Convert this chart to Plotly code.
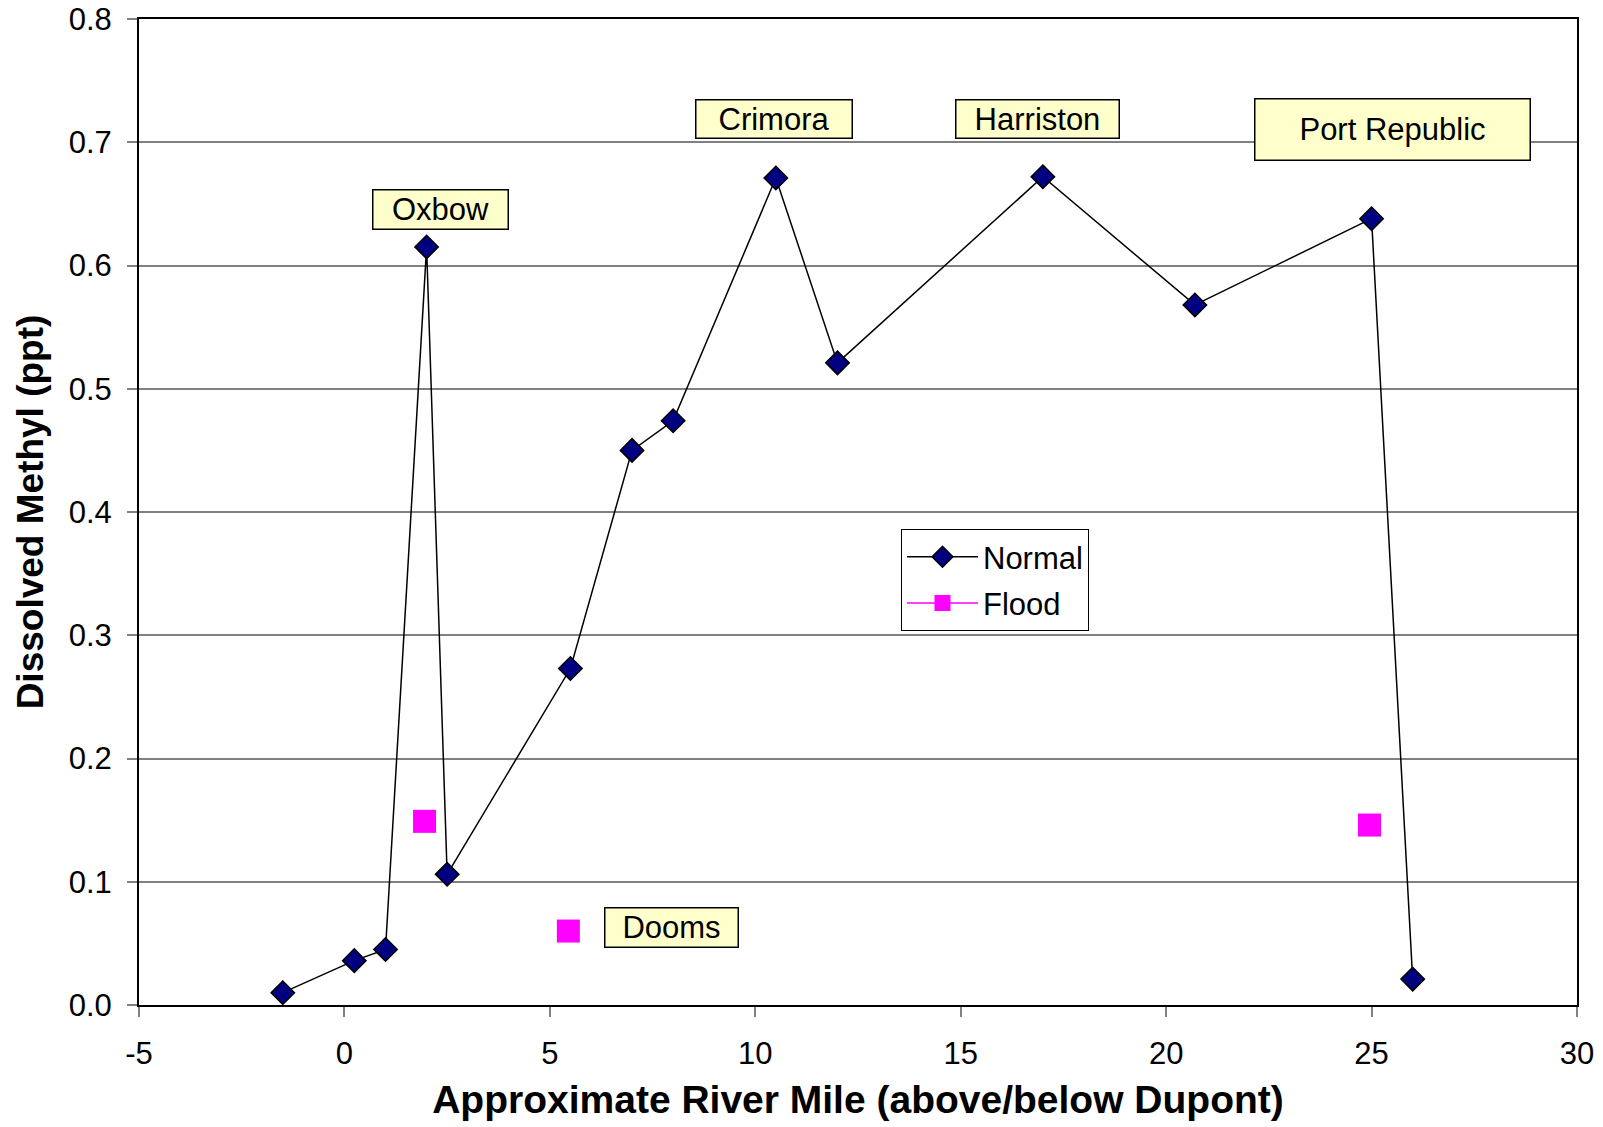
import plotly.graph_objects as go

# Data
normal_x = [-1.5, 0.24, 1.0, 2.0, 2.5, 5.5, 7.0, 8.0, 10.5, 12.0, 17.0, 20.7, 25.0, 26.0]
normal_y = [0.010, 0.036, 0.045, 0.615, 0.106, 0.273, 0.450, 0.474, 0.671, 0.521, 0.672, 0.568, 0.638, 0.021]

flood_x = [1.95, 5.45, 24.95]
flood_y = [0.149, 0.060, 0.146]

x_tickvals = [-5, 0, 5, 10, 15, 20, 25, 30]
x_ticktext = ["-5", "0", "5", "10", "15", "20", "25", "30"]
y_tickvals = [0.0, 0.1, 0.2, 0.3, 0.4, 0.5, 0.6, 0.7, 0.8]
y_ticktext = ["0.0", "0.1", "0.2", "0.3", "0.4", "0.5", "0.6", "0.7", "0.8"]

labels = ["Oxbow", "Crimora", "Harriston", "Port Republic", "Dooms"]
label_x = [2.345, 10.45, 16.87, 25.52, 7.97]
label_y = [0.6458, 0.7186, 0.7186, 0.710, 0.0631]
label_w = [137, 158, 165, 277, 135]
label_h = [41, 40, 40, 63, 41]

FONT = "Liberation Sans, Arial, sans-serif"

fig = go.Figure()

fig.add_trace(go.Scatter(
    x=normal_x, y=normal_y, mode="lines+markers", name="Normal",
    legendgroup="a",
    line=dict(color="black", width=1.5),
    marker=dict(symbol="diamond", size=18, color="#000080",
                line=dict(color="black", width=1.5)),
))

# Flood points are not connected; gaps keep a line in the legend only
fx, fy = [], []
for xv, yv in zip(flood_x, flood_y):
    fx += [xv, None]
    fy += [yv, None]
fig.add_trace(go.Scatter(
    x=fx, y=fy, mode="lines+markers", name="Flood", connectgaps=False,
    legendgroup="b",
    line=dict(color="#FF00FF", width=1.5),
    marker=dict(symbol="square", size=23, color="#FF00FF", line=dict(width=0)),
))

for t, xv, yv, w, h in zip(labels, label_x, label_y, label_w, label_h):
    fig.add_annotation(
        x=xv, y=yv, xref="x", yref="y", text=t, showarrow=False,
        font=dict(family=FONT, size=31, color="black"),
        bgcolor="#FFFFCC", bordercolor="black", borderwidth=1.5, borderpad=0,
        width=w - 3, height=h - 3, xanchor="center", yanchor="middle",
    )

fig.update_layout(
    width=1603, height=1127,
    margin=dict(l=139, r=26, t=18.7, b=122, autoexpand=False),
    paper_bgcolor="white", plot_bgcolor="white",
    font=dict(family=FONT, size=31, color="black"),
    showlegend=True,
    legend=dict(
        x=0.5299, y=0.4826, xanchor="left", yanchor="top",
        bgcolor="white", bordercolor="black", borderwidth=1,
        font=dict(family=FONT, size=31, color="black"),
        tracegroupgap=3, itemwidth=71,
    ),
    xaxis=dict(
        range=[-5, 30], tickvals=x_tickvals, ticktext=x_ticktext,
        showgrid=False, zeroline=False, automargin=False,
        ticklabeloverflow="allow",
        showline=True, linecolor="black", linewidth=2, mirror=True,
        ticks="outside", ticklen=10, tickwidth=1.5, tickcolor="#808080",
        tickfont=dict(family=FONT, size=31), ticklabelstandoff=10,
        title=dict(text="<b>Approximate River Mile (above/below Dupont)</b>",
                   font=dict(family=FONT, size=39), standoff=15),
    ),
    yaxis=dict(
        range=[0, 0.8], tickvals=y_tickvals, ticktext=y_ticktext,
        showgrid=True, gridcolor="#808080", gridwidth=1.5, zeroline=False,
        automargin=False, ticklabeloverflow="allow",
        showline=True, linecolor="black", linewidth=2, mirror=True,
        ticks="outside", ticklen=10, tickwidth=1.5, tickcolor="#808080",
        tickfont=dict(family=FONT, size=31), ticklabelstandoff=9,
        title=dict(text="<b>Dissolved Methyl (ppt)</b>",
                   font=dict(family=FONT, size=37), standoff=14),
    ),
)

fig.write_html(
    "out.html",
    config={"displayModeBar": False},
    post_script="document.body.style.margin='0';document.body.style.overflow='hidden';",
)
